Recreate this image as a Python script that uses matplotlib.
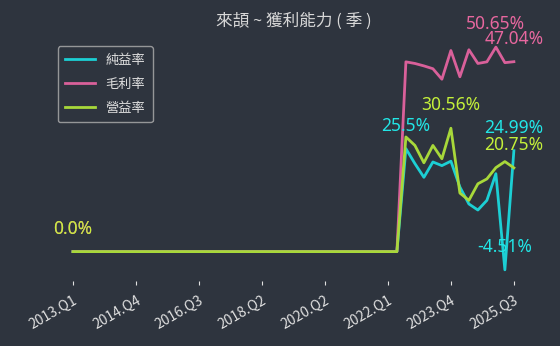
import matplotlib
matplotlib.use("Agg")
import matplotlib.pyplot as plt

plt.rcParams['font.family'] = ['Noto Sans CJK TC', 'DejaVu Sans']

# quarters (one quarter absent in the source data)
years = list(range(2013, 2026))
quarters = [f"{y}.Q{q}" for y in years for q in range(1, 5)]
quarters = [q for q in quarters if q not in ("2019.Q3", "2025.Q4")]

net_margin = [0.0] * 37 + [25.5, 21.8, 18.4, 22.2, 21.3, 22.4, 16.0, 11.8, 10.3, 12.7, 19.3, -4.51, 24.99]
gross_margin = [0.0] * 37 + [47.0, 46.6, 46.0, 45.3, 42.7, 49.8, 43.3, 50.0, 46.6, 47.0, 50.65, 46.8, 47.04]
op_margin = [0.0] * 37 + [28.4, 26.3, 22.0, 26.3, 23.0, 30.56, 14.5, 12.7, 16.8, 18.0, 20.8, 22.3, 20.75]

series_names = ['純益率', '毛利率', '營益率']
series_vals = [net_margin, gross_margin, op_margin]
colors = ['#1ccfd4', '#d9609a', '#a8d83a']
label_colors = ['#22e6e6', '#e8679f', '#c4f03a']

bg = '#2e343e'
fig = plt.figure(figsize=(5.6, 3.46), dpi=100, facecolor=bg)
ax = fig.add_axes([0.091, 0.188, 0.866, 0.708])
ax.set_facecolor(bg)

x = list(range(len(quarters)))
for name, vals, c in zip(series_names, series_vals, colors):
    ax.plot(x, vals, color=c, lw=2, label=name)

for vals, lc in zip(series_vals, label_colors):
    imax = max(range(len(vals)), key=lambda i: vals[i])
    imin = min(range(len(vals)), key=lambda i: vals[i])
    ilast = len(vals) - 1
    for i in sorted({imax, imin, ilast}):
        ax.annotate(f"{vals[i]}%", (i, vals[i]), xytext=(0, 10), textcoords='offset points',
                    ha='center', va='bottom', color=lc, fontsize=12.5,
                    family=['Noto Sans', 'DejaVu Sans'])

ax.set_xticks(x[::7])
ax.set_xticklabels(quarters[::7], rotation=30, ha='right', rotation_mode='anchor', color='#e0e0e0', fontsize=10)
ax.tick_params(axis='x', colors='#e0e0e0', length=3, pad=6)
ax.tick_params(axis='y', left=False, labelleft=False)
for s in ax.spines.values():
    s.set_visible(False)

ax.set_title('來頡 ~ 獲利能力 ( 季 )', color='#d8d8d8', fontsize=12, pad=7)

leg = ax.legend(loc='upper left', bbox_to_anchor=(0.0, 0.985), frameon=True, fontsize=9.5,
                facecolor=bg, edgecolor='#b0b0b0', labelcolor='#e0e0e0', handlelength=2.3,
                handletextpad=0.8, labelspacing=0.85, borderpad=0.55)
leg.get_frame().set_linewidth(1)

fig.savefig('out.png', dpi=100, facecolor=bg)
